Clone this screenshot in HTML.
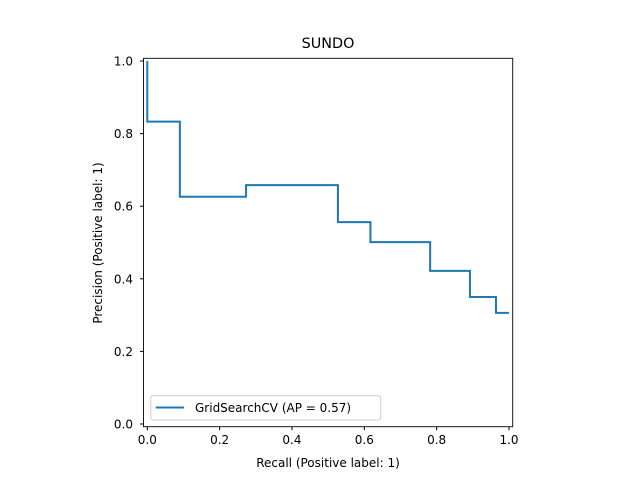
<!DOCTYPE html>
<html><head><meta charset="utf-8"><style>
body{margin:0;background:#fff}
text{font-family:"DejaVu Sans","Liberation Sans",sans-serif}
</style></head><body>
<svg id="chart" width="640" height="480">
<rect width="640" height="480" fill="#fff"/>
<text x="328" y="48" font-size="14.4" text-anchor="middle">SUNDO</text>
<g id="ticks"></g>
<path id="curve" fill="none" stroke="#1f77b4" stroke-width="2"/>
<rect x="143.5" y="58.3" width="369.2" height="368.4" fill="none" stroke="#000" stroke-width="0.9"/>
<text x="328" y="467" font-size="12" text-anchor="middle">Recall (Positive label: 1)</text>
<text transform="translate(102,243) rotate(-90)" font-size="12" text-anchor="middle">Precision (Positive label: 1)</text>
<g>
<rect x="150.7" y="395.7" width="230" height="24.3" rx="2" fill="#fff" fill-opacity="0.8" stroke="#ccc"/>
<line x1="155.7" y1="407.5" x2="184" y2="407.5" stroke="#1f77b4" stroke-width="2"/>
<text x="195" y="412" font-size="12">GridSearchCV (AP = 0.57)</text>
</g>
</svg>
<script>
const recall=[0,0.09,0.273,0.527,0.617,0.782,0.892,0.964,1.0];
const precision=[1.0,0.833,0.626,0.658,0.556,0.501,0.422,0.35,0.306];
const xTicks=[0,0.2,0.4,0.6,0.8,1.0];
const yTicks=[0,0.2,0.4,0.6,0.8,1.0];
const xs=v=>147.3+v*361.7, ys=v=>424-v*363;
let d=`M${xs(recall[0])},${ys(precision[0])}`;
for(let i=1;i<recall.length;i++){d+=` V${ys(precision[i])} H${xs(recall[i])}`;}
document.getElementById('curve').setAttribute('d',d);
const g=document.getElementById('ticks');const NS='http://www.w3.org/2000/svg';
xTicks.forEach(t=>{
 const l=document.createElementNS(NS,'line');l.setAttribute('x1',xs(t));l.setAttribute('x2',xs(t));l.setAttribute('y1',426.7);l.setAttribute('y2',430.2);l.setAttribute('stroke','#000');
 
 
 g.appendChild(l);
 const tx=document.createElementNS(NS,'text');tx.setAttribute('x',xs(t));tx.setAttribute('y',444);tx.setAttribute('font-size','12');tx.setAttribute('text-anchor','middle');tx.textContent=t.toFixed(1);
 
 
 g.appendChild(tx);
});
yTicks.forEach(t=>{
 const l=document.createElementNS(NS,'line');l.setAttribute('x1',140);l.setAttribute('x2',143.5);l.setAttribute('y1',ys(t));l.setAttribute('y2',ys(t));l.setAttribute('stroke','#000');
 
 
 g.appendChild(l);
 const tx=document.createElementNS(NS,'text');tx.setAttribute('x',133);tx.setAttribute('y',ys(t)+4.5);tx.setAttribute('font-size','12');tx.setAttribute('text-anchor','end');tx.textContent=t.toFixed(1);
 
 
 g.appendChild(tx);
});
</script>
</body></html>
